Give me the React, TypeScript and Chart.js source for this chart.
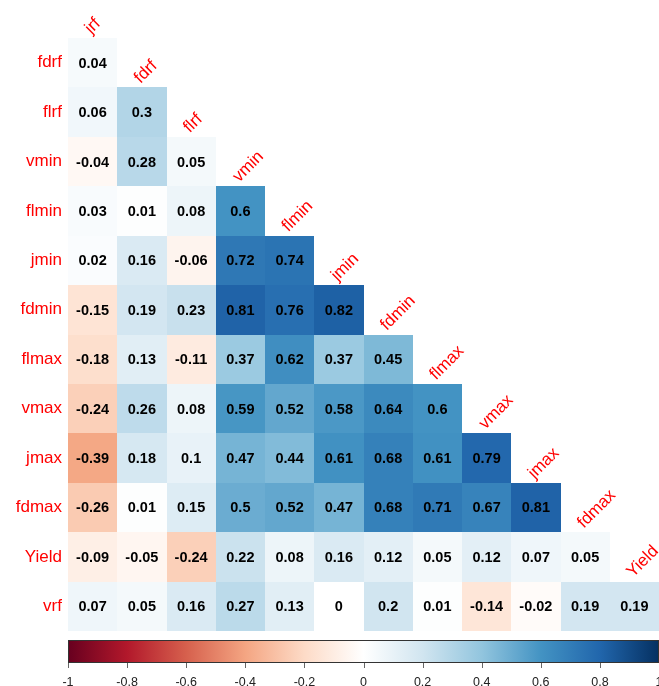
import React, { useEffect, useRef } from 'react';
import { Chart, registerables } from 'chart.js';

Chart.register(...registerables);

// ---- data ----
const rowLabels = ['fdrf', 'flrf', 'vmin', 'flmin', 'jmin', 'fdmin', 'flmax', 'vmax', 'jmax', 'fdmax', 'Yield', 'vrf'];
const colLabels = ['jrf', 'fdrf', 'flrf', 'vmin', 'flmin', 'jmin', 'fdmin', 'flmax', 'vmax', 'jmax', 'fdmax', 'Yield'];

const fdrfRow = [0.04];
const flrfRow = [0.06, 0.3];
const vminRow = [-0.04, 0.28, 0.05];
const flminRow = [0.03, 0.01, 0.08, 0.6];
const jminRow = [0.02, 0.16, -0.06, 0.72, 0.74];
const fdminRow = [-0.15, 0.19, 0.23, 0.81, 0.76, 0.82];
const flmaxRow = [-0.18, 0.13, -0.11, 0.37, 0.62, 0.37, 0.45];
const vmaxRow = [-0.24, 0.26, 0.08, 0.59, 0.52, 0.58, 0.64, 0.6];
const jmaxRow = [-0.39, 0.18, 0.1, 0.47, 0.44, 0.61, 0.68, 0.61, 0.79];
const fdmaxRow = [-0.26, 0.01, 0.15, 0.5, 0.52, 0.47, 0.68, 0.71, 0.67, 0.81];
const yieldRow = [-0.09, -0.05, -0.24, 0.22, 0.08, 0.16, 0.12, 0.05, 0.12, 0.07, 0.05];
const vrfRow = [0.07, 0.05, 0.16, 0.27, 0.13, 0, 0.2, 0.01, -0.14, -0.02, 0.19, 0.19];

const corrRows = [fdrfRow, flrfRow, vminRow, flminRow, jminRow, fdminRow, flmaxRow, vmaxRow, jmaxRow, fdmaxRow, yieldRow, vrfRow];

const colorStops = ['#67001F', '#B2182B', '#D6604D', '#F4A582', '#FDDBC7', '#FFFFFF', '#D1E5F0', '#92C5DE', '#4393C3', '#2166AC', '#053061'];
const colorbarTicks = [-1, -0.8, -0.6, -0.4, -0.2, 0, 0.2, 0.4, 0.6, 0.8, 1];
const colorbarTickLabels = ['-1', '-0.8', '-0.6', '-0.4', '-0.2', '0', '0.2', '0.4', '0.6', '0.8', '1'];

// ---- styles ----
const LABEL_COLOR = '#FF0000';
const LABEL_FONT = '17px "Liberation Sans", Arial, sans-serif';
const VALUE_FONT = 'bold 14.5px "Liberation Sans", Arial, sans-serif';
const CB_FONT = '12.5px "Liberation Sans", Arial, sans-serif';

function hexToRgb(h: string) {
  const n = parseInt(h.slice(1), 16);
  return [(n >> 16) & 255, (n >> 8) & 255, n & 255];
}

function colorFor(v: number) {
  const t = Math.max(0, Math.min(1, (v + 1) / 2)) * (colorStops.length - 1);
  const i = Math.min(colorStops.length - 2, Math.floor(t));
  const f = t - i;
  const a = hexToRgb(colorStops[i]);
  const b = hexToRgb(colorStops[i + 1]);
  const c = a.map((x, k) => Math.round(x + (b[k] - x) * f));
  return `rgb(${c[0]},${c[1]},${c[2]})`;
}

const cellData: { x: number; y: number; v: number }[] = [];
corrRows.forEach((row, i) => row.forEach((v, j) => cellData.push({ x: j, y: i, v })));

const corrPlugin = {
  id: 'corrplot',
  afterDatasetsDraw(chart: any) {
    const ctx: CanvasRenderingContext2D = chart.ctx;
    const xs = chart.scales.x;
    const ys = chart.scales.y;
    const cb = chart.scales.cb;
    const area = chart.chartArea;
    const pts = chart.data.datasets[0].data as { x: number; y: number; v: number }[];
    ctx.save();
    // cells
    pts.forEach((p) => {
      const x0 = Math.round(xs.getPixelForValue(p.x - 0.5));
      const x1 = Math.round(xs.getPixelForValue(p.x + 0.5));
      const y0 = Math.round(ys.getPixelForValue(p.y - 0.5));
      const y1 = Math.round(ys.getPixelForValue(p.y + 0.5));
      ctx.fillStyle = colorFor(p.v);
      ctx.fillRect(x0, y0, x1 - x0, y1 - y0);
    });
    // values
    ctx.font = VALUE_FONT;
    ctx.fillStyle = '#000000';
    ctx.textAlign = 'center';
    ctx.textBaseline = 'middle';
    pts.forEach((p) => {
      ctx.fillText(String(p.v), xs.getPixelForValue(p.x), ys.getPixelForValue(p.y) + 1);
    });
    // row labels
    ctx.font = LABEL_FONT;
    ctx.fillStyle = LABEL_COLOR;
    ctx.textAlign = 'right';
    ctx.textBaseline = 'middle';
    rowLabels.forEach((lab, i) => {
      ctx.fillText(lab, area.left - 6, ys.getPixelForValue(i));
    });
    // column labels (rotated 45deg above diagonal cells)
    ctx.textAlign = 'left';
    ctx.textBaseline = 'alphabetic';
    colLabels.forEach((lab, j) => {
      const cx = xs.getPixelForValue(j) - 1.5;
      const top = ys.getPixelForValue(j - 0.5) - 3.5;
      ctx.save();
      ctx.translate(cx, top);
      ctx.rotate(-Math.PI / 4);
      ctx.fillText(lab, 0, 0);
      ctx.restore();
    });
    // colorbar
    const bx0 = cb.getPixelForValue(-1);
    const bx1 = cb.getPixelForValue(1);
    const by0 = area.bottom + 9;
    const bh = 22;
    const grad = ctx.createLinearGradient(bx0, 0, bx1, 0);
    colorStops.forEach((c, i) => grad.addColorStop(i / (colorStops.length - 1), c));
    ctx.fillStyle = grad;
    ctx.fillRect(bx0, by0, bx1 - bx0, bh);
    ctx.strokeStyle = '#333333';
    ctx.lineWidth = 1;
    ctx.strokeRect(bx0 + 0.5, by0 + 0.5, bx1 - bx0 - 1, bh);
    ctx.strokeStyle = '#666666';
    ctx.font = CB_FONT;
    ctx.fillStyle = '#222222';
    ctx.textAlign = 'center';
    ctx.textBaseline = 'alphabetic';
    colorbarTicks.forEach((t, k) => {
      const px = Math.round(cb.getPixelForValue(t)) + 0.5;
      ctx.beginPath();
      ctx.moveTo(px, by0 + bh + 1);
      ctx.lineTo(px, by0 + bh + 6);
      ctx.stroke();
      ctx.fillText(colorbarTickLabels[k], cb.getPixelForValue(t), by0 + bh + 23.5);
    });
    ctx.restore();
  },
};

export default function App() {
  const ref = useRef<HTMLCanvasElement | null>(null);
  useEffect(() => {
    if (!ref.current) return;
    const chart = new Chart(ref.current, {
      type: 'scatter',
      data: {
        datasets: [
          {
            data: cellData as any,
            pointRadius: 0,
            pointHoverRadius: 0,
          },
        ],
      },
      options: {
        animation: false,
        responsive: false,
        devicePixelRatio: 1,
        events: [],
        layout: { padding: { left: 68, top: 38, right: 0, bottom: 55 } },
        plugins: { legend: { display: false }, tooltip: { enabled: false } },
        scales: {
          x: { type: 'linear', min: -0.5, max: 11.5, display: false },
          y: { type: 'linear', min: -0.5, max: 11.5, reverse: true, display: false },
          cb: { type: 'linear', axis: 'x', position: 'bottom', min: -1, max: 1, display: false },
        },
      },
      plugins: [corrPlugin],
    });
    return () => chart.destroy();
  }, []);
  return (
    <div style={{ position: 'fixed', left: 0, top: 0, width: 659, height: 686, background: '#fff' }}>
      <canvas ref={ref} width={659} height={686} style={{ display: 'block' }} />
    </div>
  );
}
